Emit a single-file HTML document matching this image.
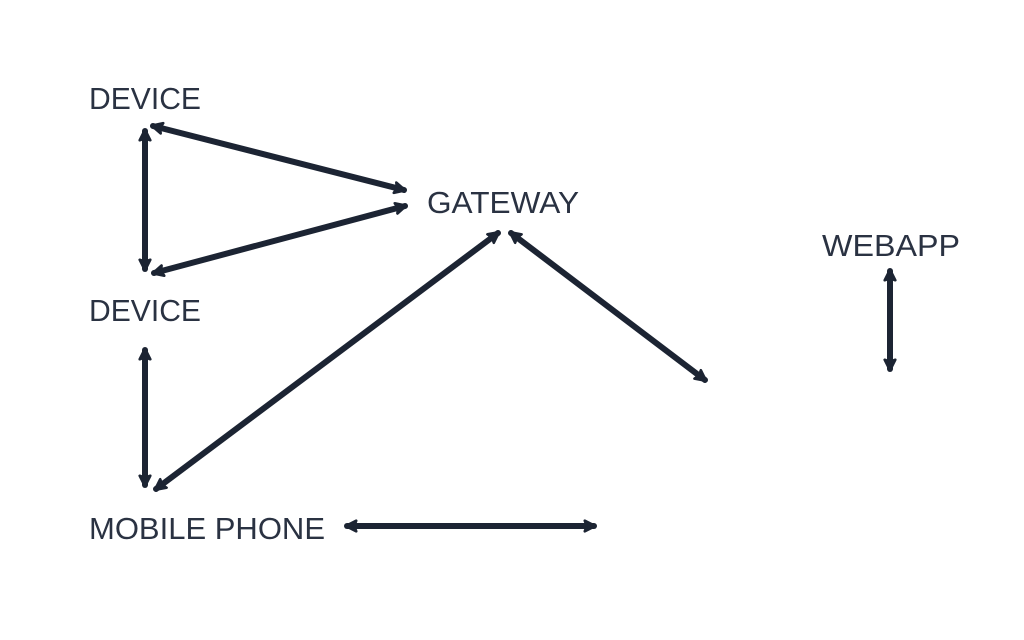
<!DOCTYPE html>
<html><head><meta charset="utf-8"><style>
html,body{margin:0;padding:0;background:#fff;}
svg{display:block;}
text{font-family:"Liberation Sans",sans-serif;font-size:31px;fill:#2a3242;}
</style></head><body>
<svg width="1024" height="640" viewBox="0 0 1024 640" xmlns="http://www.w3.org/2000/svg">
<defs>
<marker id="a" viewBox="0 0 10 10" refX="8" refY="5" markerWidth="2.2" markerHeight="2.4" orient="auto-start-reverse" markerUnits="strokeWidth">
<path d="M1,1 L9,5 L1,9 L2.5,5 Z" fill="#1c2433" stroke="#1c2433" stroke-width="2" stroke-linejoin="round"/>
</marker>
</defs>
<text x="89" y="109" textLength="112" lengthAdjust="spacingAndGlyphs">DEVICE</text>
<text x="89" y="321" textLength="112" lengthAdjust="spacingAndGlyphs">DEVICE</text>
<text x="427" y="213" textLength="152" lengthAdjust="spacingAndGlyphs">GATEWAY</text>
<text x="822" y="256" textLength="138" lengthAdjust="spacingAndGlyphs">WEBAPP</text>
<text x="89" y="539" textLength="236" lengthAdjust="spacingAndGlyphs">MOBILE PHONE</text>
<g stroke="#1c2433" stroke-width="6" fill="none" stroke-linecap="round" marker-start="url(#a)" marker-end="url(#a)">
<line x1="153" y1="126" x2="404" y2="190"/>
<line x1="154" y1="273" x2="405" y2="206"/>
<line x1="145" y1="131" x2="145" y2="269"/>
<line x1="145" y1="350" x2="145" y2="485"/>
<line x1="156" y1="489" x2="498" y2="233"/>
<line x1="511" y1="233" x2="705" y2="380"/>
<line x1="890" y1="271" x2="890" y2="369"/>
<line x1="347" y1="526" x2="594" y2="526"/>
</g>
</svg>
</body></html>
